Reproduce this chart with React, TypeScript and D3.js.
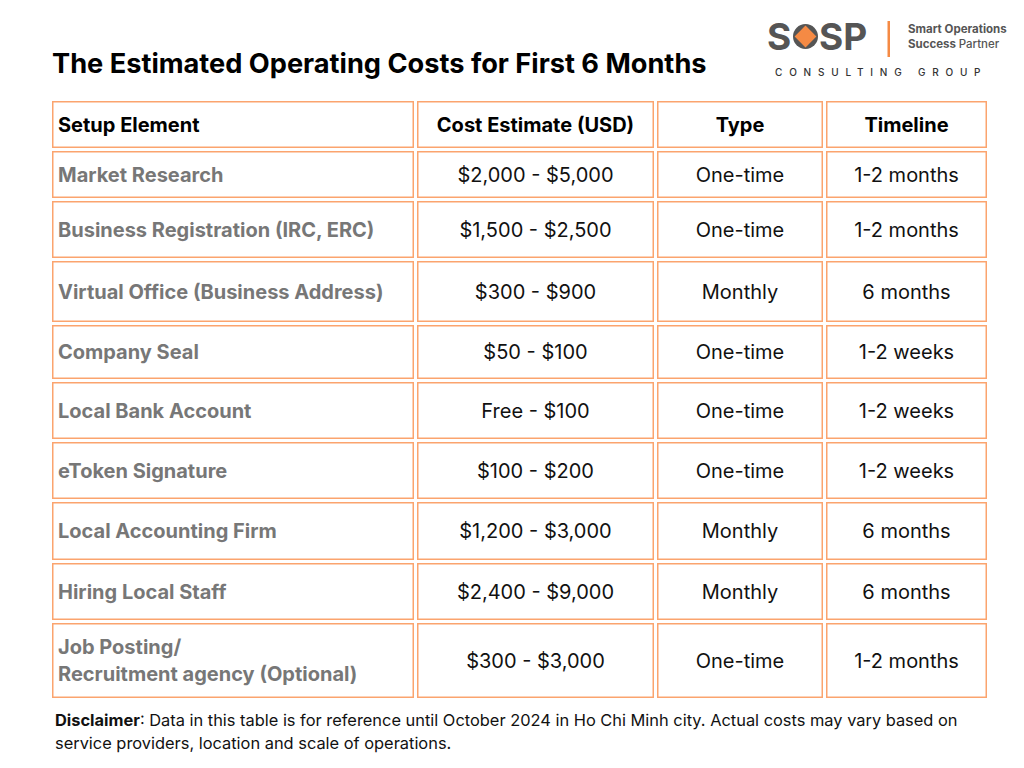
import React from "react";
import * as d3 from "d3";

const title = "The Estimated Operating Costs for First 6 Months";
const headers = ["Setup Element", "Cost Estimate (USD)", "Type", "Timeline"];
const elements = [
  ["Market Research"],
  ["Business Registration (IRC, ERC)"],
  ["Virtual Office (Business Address)"],
  ["Company Seal"],
  ["Local Bank Account"],
  ["eToken Signature"],
  ["Local Accounting Firm"],
  ["Hiring Local Staff"],
  ["Job Posting/", "Recruitment agency (Optional)"],
];
const costs = [
  "$2,000 - $5,000",
  "$1,500 - $2,500",
  "$300 - $900",
  "$50 - $100",
  "Free - $100",
  "$100 - $200",
  "$1,200 - $3,000",
  "$2,400 - $9,000",
  "$300 - $3,000",
];
const types = ["One-time", "One-time", "Monthly", "One-time", "One-time", "One-time", "Monthly", "Monthly", "One-time"];
const timelines = ["1-2 months", "1-2 months", "6 months", "1-2 weeks", "1-2 weeks", "1-2 weeks", "6 months", "6 months", "1-2 months"];

// layout
const colWidths = [362, 237, 166, 161];
const rowHeights = [47, 47, 57, 61, 54, 57, 57, 58, 57, 75];
const GAP = 3;
const X0 = 52;
const Y0 = 101;
const BORDER = "#fba46e";
const FONT = "Inter, 'Noto Sans', sans-serif";

function cumulative(arr: number[], start: number) {
  const out: number[] = [];
  let acc = start;
  arr.forEach((v) => {
    out.push(acc);
    acc += v + GAP;
  });
  return out;
}

export default function App() {
  const colX = cumulative(colWidths, X0);
  const rowY = cumulative(rowHeights, Y0);
  const rows = elements.map((el, i) => [el, [costs[i]], [types[i]], [timelines[i]]]);
  const allRows = [headers.map((h) => [h]), ...rows];
  const lineH = 27;

  return (
    <svg
      width={1024}
      height={768}
      style={{ position: "absolute", left: 0, top: 0, background: "#fff" }}
      fontFamily={FONT}
    >
      <rect x={0} y={0} width={1024} height={768} fill="#fff" />
      <text x={52} y={73} fontSize={27.2} fontWeight={700} fill="#000">
        {title}
      </text>

      {/* Logo */}
      <g>
        <text x={767} y={50} fontSize={37} fontWeight={700} fill="#555">S</text>
        <circle cx={805.5} cy={36.5} r={12.5} fill="#555" />
        <rect x={797.8} y={28.8} width={15.4} height={15.4} fill="#f58a44" transform="rotate(45 805.5 36.5)" />
        <text x={819} y={50} fontSize={37} fontWeight={700} fill="#555">SP</text>
        <rect x={887.5} y={21} width={2.5} height={36} fill="#f58a44" />
        <text x={908} y={33} fontSize={11.5} fontWeight={700} fill="#555">Smart Operations</text>
        <text x={908} y={48} fontSize={11.5} fontWeight={700} fill="#555">
          Success <tspan fontWeight={500}>Partner</tspan>
        </text>
        <text x={775} y={75.5} fontSize={10} fontWeight={500} fill="#333" letterSpacing={6.8}>
          CONSULTING GROUP
        </text>
      </g>

      {/* Table */}
      {allRows.map((row, r) => (
        <g key={r}>
          {row.map((lines, c) => {
            const x = colX[c];
            const y = rowY[r];
            const w = colWidths[c];
            const h = rowHeights[r];
            const header = r === 0;
            const first = c === 0;
            const cy = y + h / 2;
            const startY = cy - ((lines.length - 1) * lineH) / 2;
            return (
              <g key={c}>
                <rect x={x + 0.75} y={y + 0.75} width={w - 1.5} height={h - 1.5} fill="#fff" stroke={BORDER} strokeWidth={1.5} />
                {lines.map((t, k) => (
                  <text
                    key={k}
                    x={first ? x + 6 : x + w / 2}
                    y={startY + k * lineH}
                    dy="0.35em"
                    textAnchor={first ? "start" : "middle"}
                    fontSize={20}
                    fontWeight={header || first ? 700 : 400}
                    fill={header ? "#000" : first ? "#777" : "#111"}
                  >
                    {t}
                  </text>
                ))}
              </g>
            );
          })}
        </g>
      ))}

      <text x={55} y={726} fontSize={16.4} fill="#111">
        <tspan fontWeight={700}>Disclaimer</tspan>: Data in this table is for reference until October 2024 in Ho Chi Minh city. Actual costs may vary based on
      </text>
      <text x={55} y={749} fontSize={16.4} fill="#111">
        service providers, location and scale of operations.
      </text>
    </svg>
  );
}
